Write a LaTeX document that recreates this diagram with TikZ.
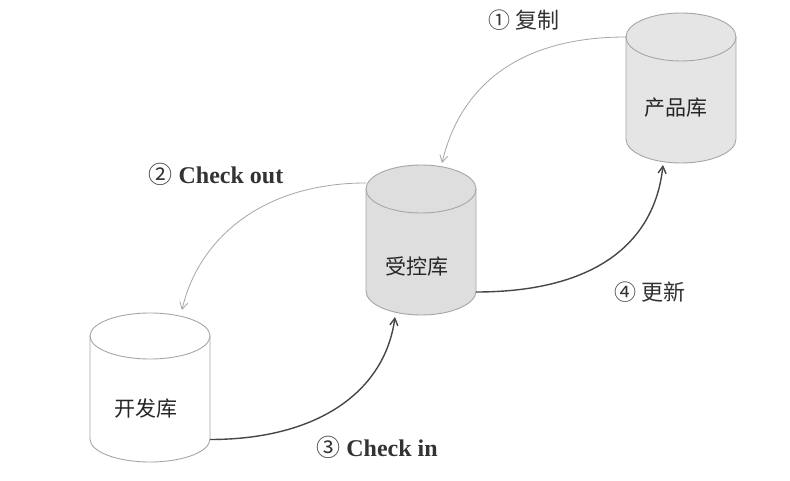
\documentclass[tikz,border=0pt]{standalone}
\usepackage{fontspec}
\setmainfont{Liberation Serif}
\newfontfamily\cjk{Noto Sans CJK SC}
\usetikzlibrary{arrows.meta}
\newcommand\dbcyl[6]{%
  \path[cylline, fill=#6] (#1-#4,#2+#5) -- (#1-#4,#3-#5)
    arc[start angle=180,end angle=360,x radius=#4pt,y radius=#5pt]
    -- (#1+#4,#2+#5)
    arc[start angle=0,end angle=180,x radius=#4pt,y radius=#5pt] -- cycle;
  \draw[cylline] (#1-#4,#2+#5)
    arc[start angle=180,end angle=360,x radius=#4pt,y radius=#5pt];}
\begin{document}
\begin{tikzpicture}[x=1pt,y=-1pt,
  cylline/.style={draw=gray!70, line width=0.9pt},
  dbbox/.style={inner sep=0pt, outer sep=0pt, draw=none},
  dbtext/.style={font=\cjk\fontsize{21}{21}\selectfont, text=black!85},
  lbl/.style={font=\fontsize{24}{24}\selectfont\bfseries, text=black!80},
  cjklbl/.style={font=\cjk\fontsize{22}{22}\selectfont, text=black!80},
  light/.style={draw=gray!70, line width=0.8pt, -{Straight Barb[length=7pt,width=8pt]}},
  heavy/.style={draw=black!72, line width=1.4pt, -{Straight Barb[length=7pt,width=8pt]}}]
\path[use as bounding box, fill=white] (0,0) rectangle (790,481);

% cylinders
\dbcyl{150}{313}{462}{60}{23}{white}
\dbcyl{421}{165}{315}{55}{24}{gray!26}
\dbcyl{681}{13}{163}{55}{24}{gray!20}

\node[dbbox, minimum width=120pt, minimum height=149pt] (dev) at (150,387.5) {};
\node[dbbox, minimum width=110pt, minimum height=150pt] (ctl) at (421,240) {};
\node[dbbox, minimum width=110pt, minimum height=150pt] (prod) at (681,88) {};

\node[dbtext] (devt) at (146,409) {开发库};
\node[dbtext] (ctlt) at (417,267) {受控库};
\node[dbtext] (prodt) at (676,108) {产品库};

% connectors
\draw[light] ([yshift=51pt]prod.west) .. controls +(-117,0) and +(16,-68) .. ([xshift=21pt,yshift=2pt]ctl.north);
\draw[light] ([yshift=57pt]ctl.west) .. controls +(-105,0) and +(16,-70) .. ([xshift=32pt,yshift=3pt]dev.north);
\draw[heavy] ([yshift=-52pt]dev.east) .. controls +(110,0) and +(-10,73) .. ([xshift=-26pt,yshift=-2pt]ctl.south);
\draw[heavy] ([yshift=-52pt]ctl.east) .. controls +(123,0) and +(-8,75) .. ([xshift=-18pt,yshift=-2pt]prod.south);

% labels
\node[cjklbl] (l1) at (524,20) {① 复制};
\node[lbl, anchor=base] (l2) at (216,184) {{\cjk\mdseries ②} Check out};
\node[lbl, anchor=base] (l3) at (377,456) {{\cjk\mdseries ③} Check in};
\node[cjklbl] (l4) at (650,292) {④ 更新};
\end{tikzpicture}
\end{document}
